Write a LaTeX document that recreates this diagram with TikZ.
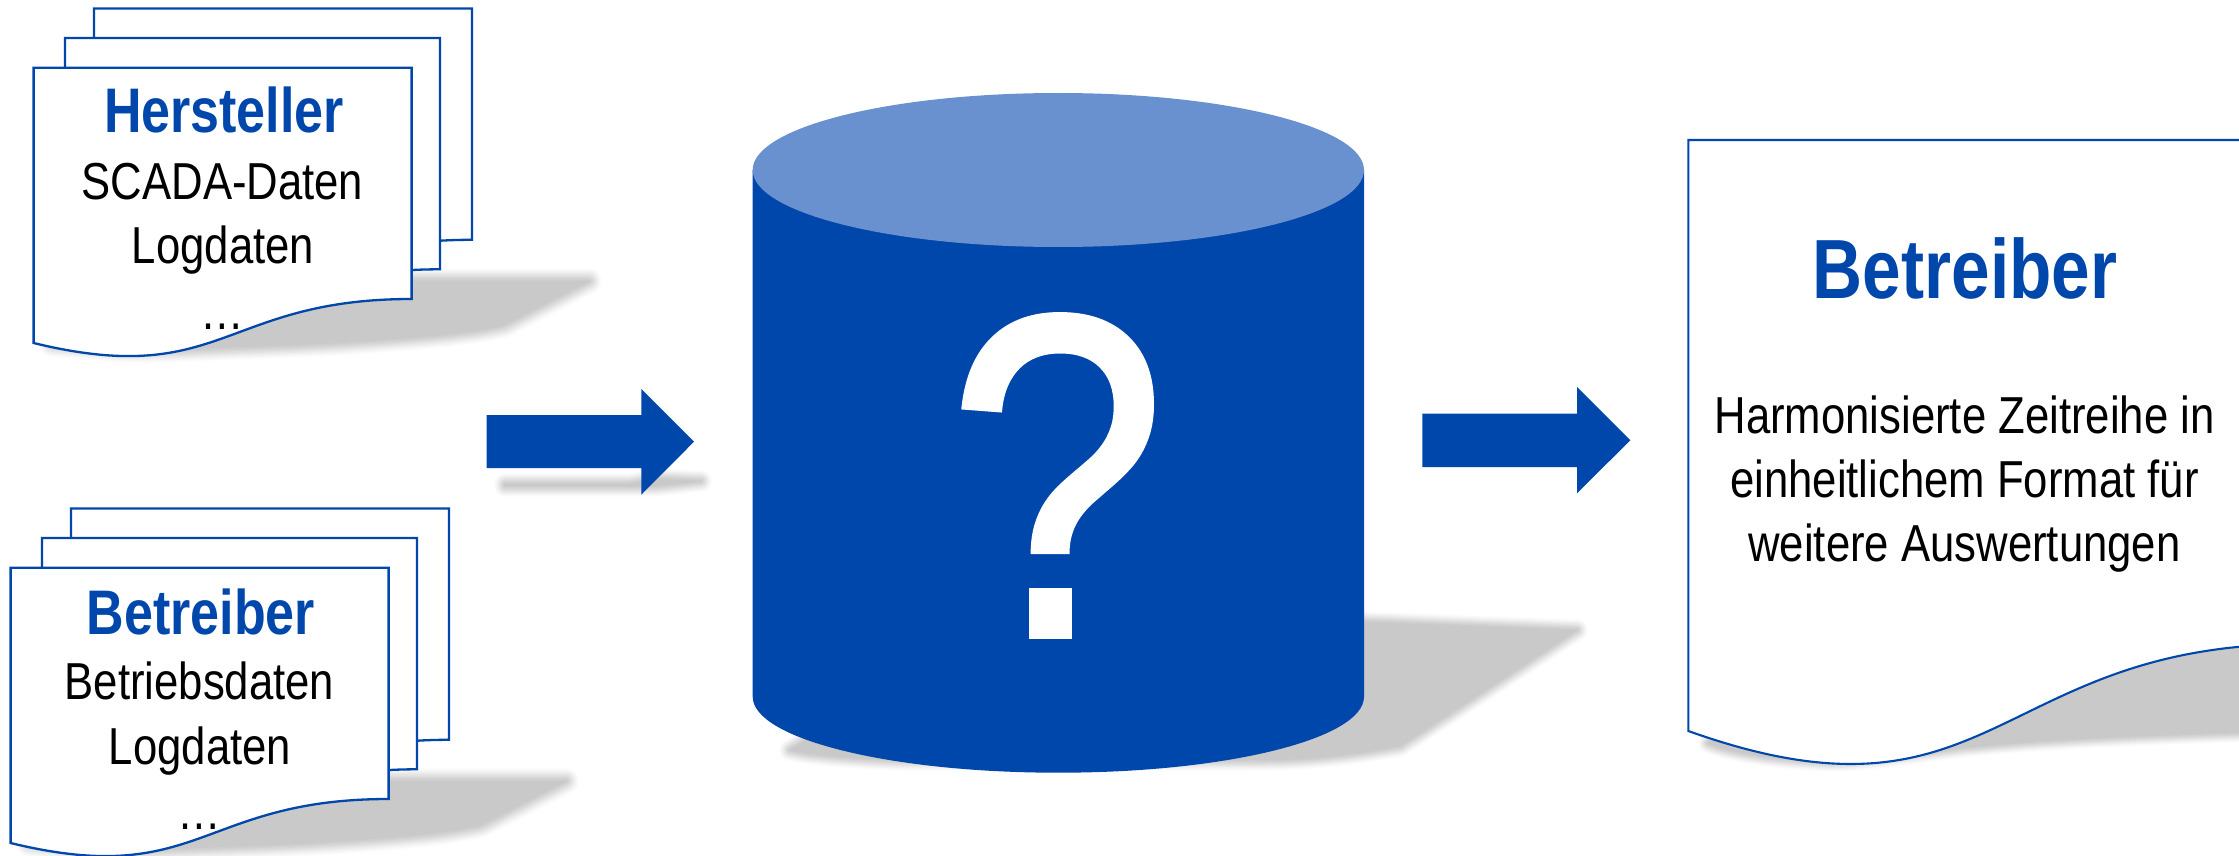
\documentclass[tikz,border=0pt]{standalone}
\usepackage{fontspec}
\setmainfont{Liberation Sans}
\newfontfamily\condfont[FakeStretch=0.84]{Liberation Sans}
\newfontfamily\headfont[FakeStretch=0.825]{Liberation Sans}
\newfontfamily\qfont[FakeStretch=0.85,FakeBold=1.2]{Liberation Sans}
\definecolor{mainblue}{HTML}{0047AB}
\definecolor{lightblue}{HTML}{6A91CF}
\definecolor{shadowgray}{HTML}{C9C9C9}
\tikzset{
  docline/.style={draw=mainblue,fill=white,line width=2.3pt,line join=miter},
  blockfill/.style={fill=mainblue},
  txt/.style={anchor=base,inner sep=0pt,outer sep=0pt,align=center},
  bigtitle/.style={txt,text=mainblue,font={\headfont\bfseries\fontsize{63}{63}\selectfont}},
  bodytxt/.style={txt,text=black,font={\condfont\fontsize{52}{52}\selectfont}},
}
% soft edged shadow: #1 path, #2 blur reach (outward)
\newcommand\softshadow[2]{%
  \foreach \i/\c in {10/4,9/11,8/20,7/30,6/41,5/52,4/63,3/74,2/84,1/93}{%
    \path[fill=shadowgray!\c!white,draw=shadowgray!\c!white,line join=round,line width={2*#2*\i/10*1pt}] #1;
  }%
  \path[fill=shadowgray] #1;
}
\newcommand\smalldocshape[3]{%
  \path[docline,shift={(#1,#2)}] (33.6,67.7) -- (411.6+#3,67.7) -- (411.6+#3,299)
    .. controls (222.6,299) and (222.6,389) .. (33.6,343) -- cycle;
}
\newcommand\stackshadow{(300,281) -- (589,281) -- (504,325) .. controls (480,331) and (450,334) .. (430,336) .. controls (350,343) and (300,345) .. (240,347) .. controls (190,349) and (150,351) .. (120,350) -- (52,344) -- cycle}
\begin{document}
\begin{tikzpicture}[x=1pt,y=-1pt]
\useasboundingbox (0,0) rectangle (2239,856);
\clip (0,0) rectangle (2239,856);
\fill[white] (0,0) rectangle (2239,856);

% --- shadows
\softshadow{\stackshadow}{13}
\begin{scope}[shift={(-23,500)}]
\softshadow{\stackshadow}{13}
\end{scope}
\softshadow{(1000,622) -- (1364,622) -- (1577,630) -- (1400,746) .. controls (1340,757) and (1300,760) .. (1250,760) -- (900,760) .. controls (850,758) and (810,755) .. (790,750) -- cycle}{11}
\softshadow{(505,484) -- (630,484) -- (655,479) -- (701,481) -- (655,486) -- (505,486) -- cycle}{11}
\softshadow{(1900,640) -- (2260,640) -- (2260,732) .. controls (2120,736) and (2040,740) .. (1960,748) .. controls (1900,756) and (1860,762) .. (1833,762) .. controls (1780,760) and (1730,753) .. (1708,743) -- cycle}{10}

% --- upper stack
\smalldocshape{60.4}{-59.2}{0}
\smalldocshape{31.4}{-29.7}{-3}
\smalldocshape{0}{0}{0}
\node[bigtitle] (h1) at (224,133) {Hersteller};
\node[bodytxt] (h2) at (222.5,200) {SCADA-Daten};
\node[bodytxt] (h3) at (223,263) {Logdaten};
\node[bodytxt] (h4) at (222.5,329) {…};

% --- lower stack
\begin{scope}[shift={(-23,500)}]
\smalldocshape{60.4}{-59.2}{0}
\smalldocshape{31.4}{-29.7}{-3}
\smalldocshape{0}{0}{0}
\end{scope}
\node[bigtitle] (b1) at (201,634) {Betreiber};
\node[bodytxt] (b2) at (199.5,699) {Betriebsdaten};
\node[bodytxt] (b3) at (200,764) {Logdaten};
\node[bodytxt] (b4) at (199.5,829) {…};

% --- arrows
\fill[blockfill] (486.7,415) -- (641.3,415) -- (641.3,389) -- (694,441.7) -- (641.3,494.7) -- (641.3,468) -- (486.7,468) -- cycle;
\fill[blockfill] (1422.3,413.7) -- (1577,413.7) -- (1577,387) -- (1630.3,440.3) -- (1577,493.3) -- (1577,467) -- (1422.3,467) -- cycle;

% --- cylinder
\fill[blockfill] (752.7,170) -- (752.7,696.7) arc[start angle=180,end angle=0,x radius=305.65,y radius=76] -- (1364,170) -- cycle;
\fill[lightblue] (1058.35,170) ellipse [x radius=305.65,y radius=77];
\node[txt,text=white,font={\qfont\fontsize{460}{460}\selectfont}] (q) at (1057,636) {?};

% --- result page
\path[docline,line width=2.1pt] (1688.3,140) -- (2300,140) -- (2300,644)
  .. controls (1994,644) and (1994,840) .. (1688.3,731) -- cycle;
\node[txt,text=mainblue,font={\headfont\bfseries\fontsize{84}{84}\selectfont}] (r1) at (1965,298.5) {Betreiber};
\node[bodytxt] (r2) at (1964.5,433.8) {Harmonisierte Zeitreihe in};
\node[bodytxt] (r3) at (1964.5,497.7) {einheitlichem Format für};
\node[bodytxt] (r4) at (1964.5,561.5) {weitere Auswertungen};
\end{tikzpicture}
\end{document}
